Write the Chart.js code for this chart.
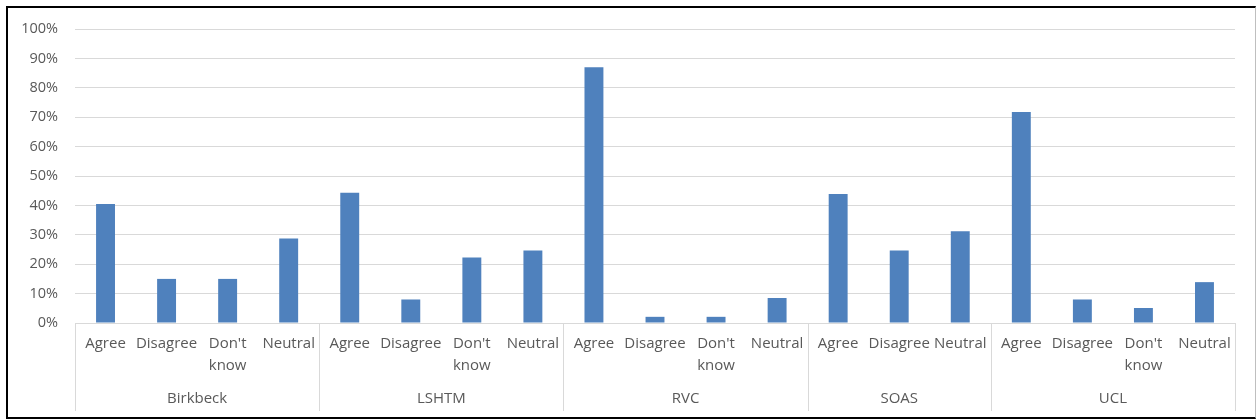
<!DOCTYPE html>
<html>
<head>
<meta charset="utf-8">
<script src="https://cdn.jsdelivr.net/npm/chart.js@4/dist/chart.umd.min.js"></script>
<style>
  html, body { margin: 0; padding: 0; background: #fff; }
  #frame {
    position: absolute; left: 6px; top: 6px; width: 1247px; height: 409px;
    border-top: 2px solid #000; border-left: 2px solid #000;
    border-bottom: 2px solid #000; border-right: 1px solid #bfbfbf;
    pointer-events: none;
  }
  canvas { position: absolute; left: 0; top: 0; }
</style>
</head>
<body>
<canvas id="surveyChart" width="1257" height="419"></canvas>
<div id="frame"></div>
<script>
const groups = ['Birkbeck', 'LSHTM', 'RVC', 'SOAS', 'UCL'];
const answers4 = ['Agree', 'Disagree', ["Don't", 'know'], 'Neutral'];
const answers3 = ['Agree', 'Disagree', 'Neutral'];

// percent values
const birkbeck = [40.5, 15, 15, 28.7];
const lshtm = [44.3, 8, 22.3, 24.7];
const rvc = [87, 2.1, 2.1, 8.5];
const soas = [43.9, 24.7, 31.2];
const ucl = [71.8, 8, 5.1, 13.9];

const groupValues = [birkbeck, lshtm, rvc, soas, ucl];
const groupAnswers = [answers4, answers4, answers4, answers3, answers4];

const textColor = '#595959';
const lineColor = '#d9d9d9';
const fontFamily = '"Open Sans", sans-serif';

let labels = [];
let values = [];
groupValues.forEach((vals, g) => {
    vals.forEach((v, i) => {
        labels.push(groupAnswers[g][i]);
        values.push(v);
    });
});

// draws the second level of the category axis (group names + dividers)
const groupAxis = {
    id: 'groupAxis',
    afterDraw(chart) {
        const ctx = chart.ctx;
        const x = chart.scales.x;
        const half = (x.getPixelForValue(1) - x.getPixelForValue(0)) / 2;
        const top = x.top;
        const bottom = 411;
        ctx.save();
        ctx.strokeStyle = lineColor;
        ctx.lineWidth = 1;
        ctx.fillStyle = textColor;
        ctx.font = '15px ' + fontFamily;
        ctx.textAlign = 'center';
        ctx.textBaseline = 'middle';
        let start = 0;
        groupValues.forEach((vals, g) => {
            const left = x.getPixelForValue(start) - half;
            const right = x.getPixelForValue(start + vals.length - 1) + half;
            ctx.beginPath();
            ctx.moveTo(Math.round(left) + 0.5, top);
            ctx.lineTo(Math.round(left) + 0.5, bottom);
            if (g === groupValues.length - 1) {
                ctx.moveTo(Math.round(right) + 0.5, top);
                ctx.lineTo(Math.round(right) + 0.5, bottom);
            }
            ctx.stroke();
            ctx.fillText(groups[g], (left + right) / 2, 399);
            start += vals.length;
        });
        ctx.restore();
    }
};

let ctx = document.getElementById('surveyChart').getContext('2d');
var surveyChart = new Chart(ctx, {
    type: 'bar',
    data: {
        labels: labels,
        datasets: [{
            data: values,
            backgroundColor: '#4f81bd',
            borderWidth: 0,
            categoryPercentage: 1,
            barPercentage: 0.31
        }]
    },
    options: {
        responsive: false,
        animation: false,
        layout: { padding: { left: 0, right: 22, top: 29, bottom: 8 } },
        plugins: {
            legend: { display: false },
            tooltip: { enabled: false }
        },
        scales: {
            x: {
                grid: { display: false, drawTicks: false },
                border: { display: false },
                ticks: {
                    autoSkip: false,
                    maxRotation: 0,
                    padding: 10,
                    color: textColor,
                    font: { family: fontFamily, size: 15, lineHeight: 1.45 }
                },
                afterFit: (scale) => { scale.height = 88; }
            },
            y: {
                min: 0,
                max: 100,
                grid: { color: lineColor, drawTicks: false },
                border: { display: false },
                ticks: {
                    stepSize: 10,
                    padding: 17,
                    color: textColor,
                    font: { family: fontFamily, size: 14.5 },
                    callback: (v) => v + '%'
                },
                afterFit: (scale) => { scale.width = 75; }
            }
        }
    },
    plugins: [groupAxis]
});
</script>
</body>
</html>
